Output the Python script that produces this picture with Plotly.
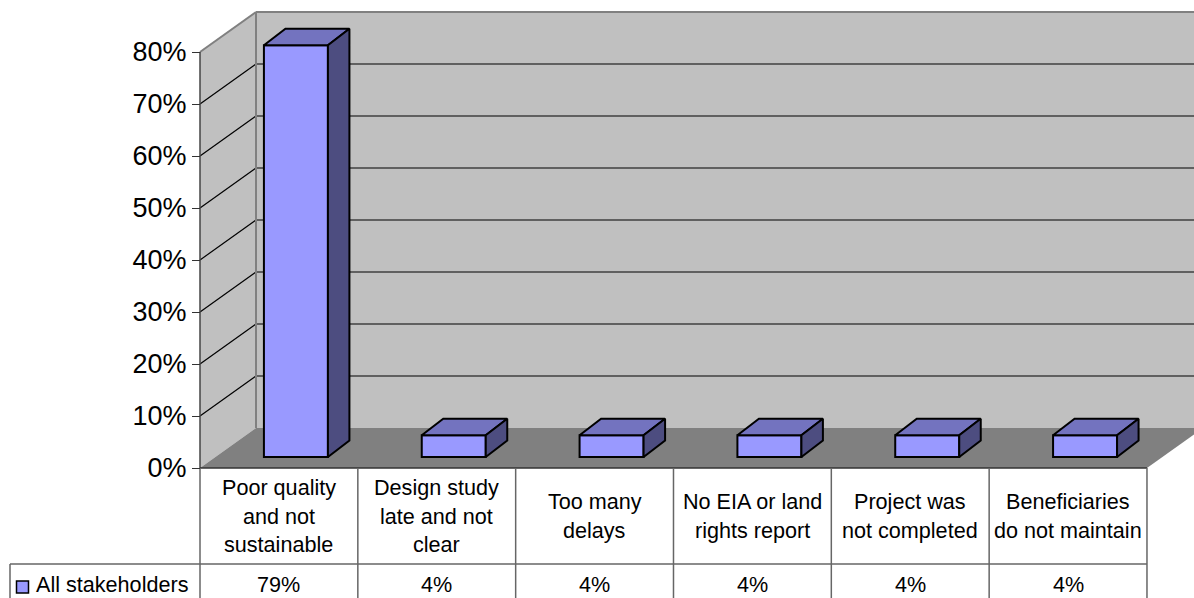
import plotly.graph_objects as go

# ---------- data ----------
categories = [
    ["Poor quality", "and not", "sustainable"],
    ["Design study", "late and not", "clear"],
    ["Too many", "delays"],
    ["No EIA or land", "rights report"],
    ["Project was", "not completed"],
    ["Beneficiaries", "do not maintain"],
]
series_name = "All stakeholders"
values = [79.17, 4.17, 4.17, 4.17, 4.17, 4.17]
table_labels = ["79%", "4%", "4%", "4%", "4%", "4%"]
tick_values = [0, 10, 20, 30, 40, 50, 60, 70, 80]
tick_labels = ["0%", "10%", "20%", "30%", "40%", "50%", "60%", "70%", "80%"]

# ---------- geometry (scales) ----------
W, H = 1194, 598
X0_PX, Y0_PX = 200, 468
PX_PER_CAT = 157.83
PX_PER_PCT = 5.2
N = len(values)


def ux(px):
    return (px - X0_PX) / PX_PER_CAT


def uy(px):
    return (Y0_PX - px) / PX_PER_PCT


WALL_DX, WALL_DY = 56 / PX_PER_CAT, 40 / PX_PER_PCT
BAR_DX, BAR_DY = 21.5 / PX_PER_CAT, 16.5 / PX_PER_PCT
BAR_W = 64 / PX_PER_CAT
BAR_SHIFT = 17 / PX_PER_CAT
BAR_BASE = 11 / PX_PER_PCT
TOP = tick_values[-1]

WALL = "#C0C0C0"
FLOOR = "#808080"
EDGE = "#808080"
TABLE = "#666666"
FRONT = "#9999FF"
TOPFACE = "#7373BF"
SIDE = "#4D4D80"
FONT = "Liberation Sans, Arial, sans-serif"


def poly(pts):
    return "M " + " L ".join(f"{x:.5f} {y:.5f}" for x, y in pts) + " Z"


shapes = []


def add_poly(pts, fill, line=None, width=0):
    shapes.append(dict(type="path", xref="x", yref="y", layer="below", path=poly(pts),
                       fillcolor=fill, line=dict(color=line or fill, width=width)))


def add_line(x0, y0, x1, y1, color, width=1, layer="below"):
    shapes.append(dict(type="line", xref="x", yref="y", layer=layer, x0=x0, y0=y0, x1=x1, y1=y1,
                       line=dict(color=color, width=width)))


# walls and floor
add_poly([(WALL_DX, WALL_DY), (N + WALL_DX, WALL_DY), (N + WALL_DX, TOP + WALL_DY), (WALL_DX, TOP + WALL_DY)], WALL)
add_poly([(0, 0), (WALL_DX, WALL_DY), (WALL_DX, TOP + WALL_DY), (0, TOP)], WALL)
add_poly([(0, 0), (WALL_DX, WALL_DY), (N + WALL_DX, WALL_DY), (N, 0)], FLOOR)
for t in tick_values[1:-1]:
    add_line(WALL_DX, t + WALL_DY, N + WALL_DX, t + WALL_DY, "#000000", 1)
    add_line(0, t, WALL_DX, t + WALL_DY, "#000000", 1.2)
add_line(0, TOP, WALL_DX, TOP + WALL_DY, EDGE, 2)
add_line(WALL_DX, TOP + WALL_DY, N + WALL_DX, TOP + WALL_DY, EDGE, 2)
add_line(WALL_DX, WALL_DY, WALL_DX, TOP + WALL_DY, EDGE, 2)
add_line(0, 0, 0, TOP, "#444444", 1.5)

# data table
ROW1_PX, ROW2_PX = 468, 564
add_line(0, uy(ROW1_PX), N, uy(ROW1_PX), "#333333", 1.5)
add_line(ux(10), uy(ROW2_PX), N, uy(ROW2_PX), TABLE, 1.5)
add_line(ux(10), uy(ROW2_PX), ux(10), uy(H), TABLE, 1.5)
for i in range(N + 1):
    add_line(i, uy(ROW1_PX), i, uy(H), TABLE, 1.5)

# bars
centers = [i + 0.5 + BAR_SHIFT for i in range(N)]
top_x, top_y, side_x, side_y = [], [], [], []
for c, v in zip(centers, values):
    l, r = c - BAR_W / 2, c + BAR_W / 2
    b, t = BAR_BASE, BAR_BASE + v
    top_x += [l, r, r + BAR_DX, l + BAR_DX, l, None]
    top_y += [t, t, t + BAR_DY, t + BAR_DY, t, None]
    side_x += [r, r + BAR_DX, r + BAR_DX, r, r, None]
    side_y += [b, b + BAR_DY, t + BAR_DY, t, b, None]

fig = go.Figure()
fig.add_trace(go.Bar(x=centers, y=values, base=[BAR_BASE] * N, width=[BAR_W] * N, name=series_name,
                     marker=dict(color=FRONT, line=dict(color="#000000", width=2)),
                     hoverinfo="skip", showlegend=False))
fig.add_trace(go.Scatter(x=top_x, y=top_y, mode="lines", fill="toself", fillcolor=TOPFACE,
                         line=dict(color="#000000", width=2), hoverinfo="skip", showlegend=False))
fig.add_trace(go.Scatter(x=side_x, y=side_y, mode="lines", fill="toself", fillcolor=SIDE,
                         line=dict(color="#000000", width=2), hoverinfo="skip", showlegend=False))
# legend key in the data table
fig.add_trace(go.Scatter(x=[ux(22.5)], y=[uy(587)], mode="markers",
                         marker=dict(symbol="square", size=12, color=FRONT, line=dict(color="#000000", width=1.5)),
                         hoverinfo="skip", showlegend=False))

annotations = []
TEXT_SIZE = 21.6
LINE_PX = 28.7
HEAD_CENTER_PX = 516
VALUE_CENTER_PX = 584


def add_text(x, y, text, anchor="center"):
    annotations.append(dict(xref="x", yref="y", x=x, y=y, text=text, showarrow=False, xanchor=anchor,
                            yanchor="middle", borderpad=0, font=dict(family=FONT, size=TEXT_SIZE, color="#000000")))


for i, lines in enumerate(categories):
    for k, line in enumerate(lines):
        add_text(i + 0.5, uy(HEAD_CENTER_PX + (k - (len(lines) - 1) / 2) * LINE_PX), line)
    add_text(i + 0.5, uy(VALUE_CENTER_PX), table_labels[i])
add_text(ux(35), uy(VALUE_CENTER_PX), series_name, "left")

fig.update_layout(
    width=W, height=H, margin=dict(l=0, r=0, t=0, b=0), paper_bgcolor="#FFFFFF", plot_bgcolor="#FFFFFF",
    showlegend=False, shapes=shapes, annotations=annotations,
    xaxis=dict(range=[ux(0), ux(W)], visible=False, fixedrange=True),
    yaxis=dict(range=[uy(H), uy(0)], anchor="free", position=X0_PX / W, side="left",
               tickmode="array", tickvals=tick_values, ticktext=tick_labels,
               ticks="outside", ticklen=8, tickwidth=1, tickcolor="#333333",
               tickfont=dict(family=FONT, size=27, color="#000000"),
               showgrid=False, zeroline=False, showline=False, fixedrange=True),
)

fig.write_html("out.html", config={"displayModeBar": False},
               post_script="document.body.style.margin='0';document.body.style.overflow='hidden';")
